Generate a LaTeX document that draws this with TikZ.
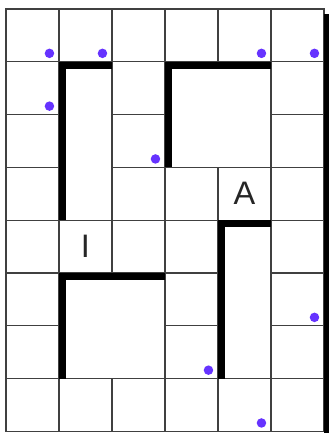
\documentclass[tikz,border=0pt]{standalone}
\usepackage{fontspec}
\setmainfont{Liberation Sans}
\definecolor{tokenpurple}{RGB}{102,51,255}
\begin{document}
\begin{tikzpicture}[x=1.06cm, y=-1.056cm,
    cell/.style={draw=black!75, line width=0.6pt},
    wall/.style={fill=black},
    token/.style={circle, fill=tokenpurple, inner sep=0pt, minimum size=0.19cm},
    letter/.style={font=\fontsize{18.5}{20}\selectfont, text=black!85, inner sep=0pt}]
  \clip (-0.113, -0.170) rectangle (6.094, 8.030);
  \fill[white] (-0.113, -0.170) rectangle (6.094, 8.030);

  % Grid of cells
  \foreach \c in {0,...,5}
    \foreach \r in {0,...,7}
      \draw[cell] (\c, \r) rectangle ++(1, 1);

  % Merged rooms
  \draw[cell, fill=white] (1, 1) rectangle (2, 4);
  \draw[cell, fill=white] (3, 1) rectangle (5, 3);
  \draw[cell, fill=white] (1, 5) rectangle (3, 7);
  \draw[cell, fill=white] (4, 4) rectangle (5, 7);

  % Thick walls (top and left of each room)
  \fill[wall] (1, 1) rectangle ++(1, 0.13);
  \fill[wall] (1, 1) rectangle ++(0.13, 3);
  \fill[wall] (3, 1) rectangle ++(2, 0.13);
  \fill[wall] (3, 1) rectangle ++(0.13, 2);
  \fill[wall] (1, 5) rectangle ++(2, 0.13);
  \fill[wall] (1, 5) rectangle ++(0.13, 2);
  \fill[wall] (4, 4) rectangle ++(1, 0.13);
  \fill[wall] (4, 4) rectangle ++(0.13, 3);
  \fill[wall] (6, 0.1) rectangle (6.2, 8.2);

  % Letters
  \node[letter] (nodeA) at (4.5, 3.5) {A};
  \node[letter] (nodeI) at (1.5, 4.5) {I};

  % Tokens
  \foreach \c/\r [count=\i] in {0/0, 1/0, 4/0, 5/0, 0/1, 2/2, 5/5, 3/6, 4/7}
    \node[token] (d\i) at (\c + 0.82, \r + 0.84) {};
\end{tikzpicture}
\end{document}
